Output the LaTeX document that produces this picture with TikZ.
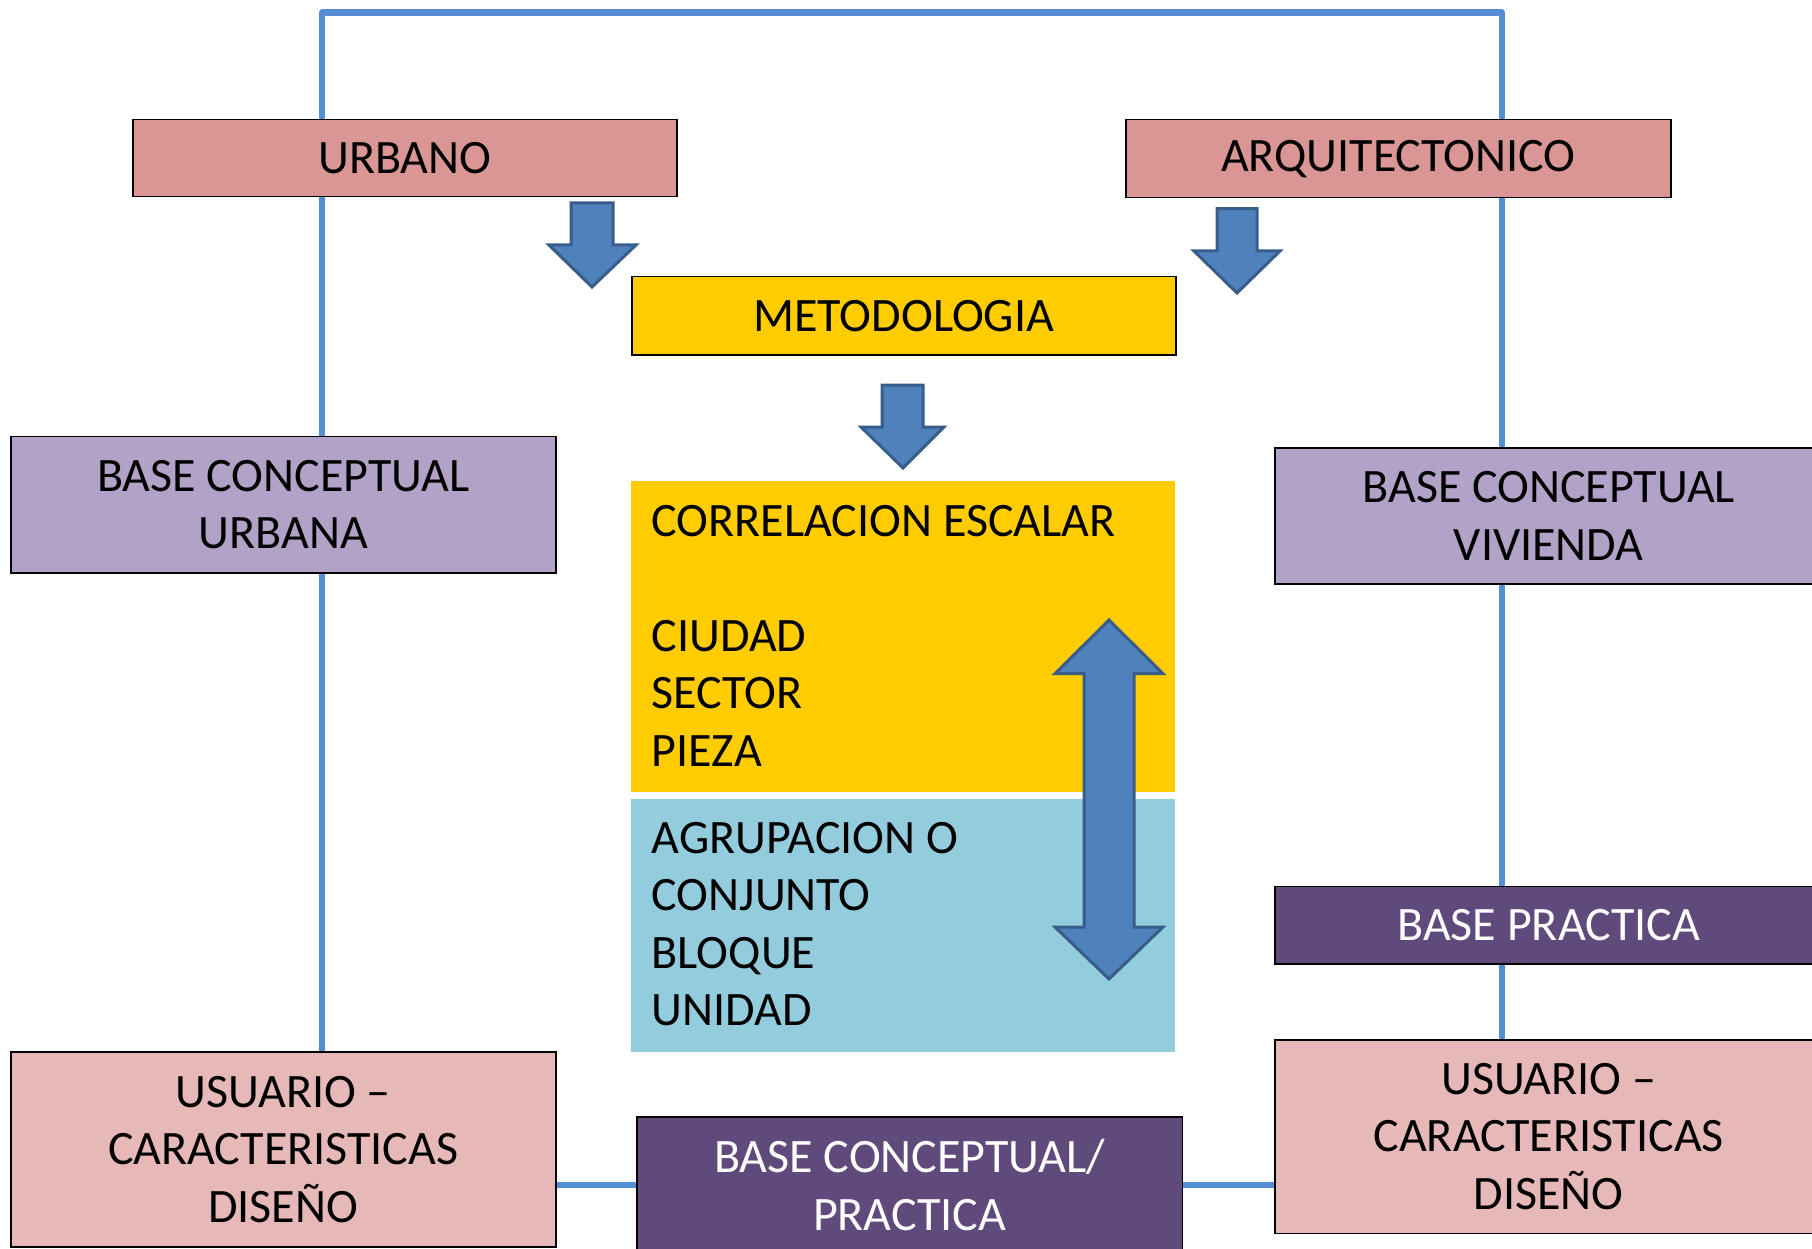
\documentclass[tikz,border=0pt]{standalone}
\usepackage{fontspec}
\setmainfont{Carlito}
\usetikzlibrary{backgrounds}
\definecolor{pinkA}{HTML}{D99694}
\definecolor{pinkB}{HTML}{E6B9B8}
\definecolor{lilac}{HTML}{B2A2C7}
\definecolor{darkpurple}{HTML}{604A7B}
\definecolor{gold}{HTML}{FFCC00}
\definecolor{skyblue}{HTML}{93CDDD}
\definecolor{arrowfill}{HTML}{4F81BD}
\definecolor{arrowedge}{HTML}{385D8A}
\definecolor{lineblue}{HTML}{558ED5}
\begin{document}
\begin{tikzpicture}[x=1pt,y=-1pt,
  bigfont/.style={font=\fontsize{48}{57.6}\selectfont},
  box/.style={draw=black, line width=1.5pt, anchor=north west, inner sep=0pt, align=center, bigfont},
  plainbox/.style={anchor=north west, inner sep=0pt},
  listtext/.style={anchor=base west, inner sep=0pt, align=left, bigfont},
  conn/.style={draw=lineblue, line width=6.5pt, line join=round},
  barrow/.style={fill=arrowfill, draw=arrowedge, line width=3pt, line join=miter}
]
\useasboundingbox (0,0) rectangle (1812,1249);
\clip (0,0) rectangle (1812,1249);

% boxes
\node[box, fill=pinkA, minimum width=544pt, minimum height=77.4pt] (urb) at (132,118.6) {URBANO};
\node[box, fill=pinkA, minimum width=545pt, minimum height=78pt] (arq) at (1125,119) {ARQUITECTONICO};
\node[box, fill=gold, minimum width=544pt, minimum height=78pt] (met) at (631,276) {METODOLOGIA};
\node[box, fill=lilac, minimum width=545pt, minimum height=136.5pt] (bcu) at (10,435.5) {BASE CONCEPTUAL\\URBANA};
\node[box, fill=lilac, minimum width=548pt, minimum height=136pt] (bcv) at (1274,447) {BASE CONCEPTUAL\\VIVIENDA};
\node[plainbox, fill=gold, minimum width=544pt, minimum height=310.6pt] (corr) at (631,481) {};
\node[plainbox, fill=skyblue, minimum width=544pt, minimum height=253pt] (agr) at (631,799) {};
\node[box, fill=darkpurple, text=white, minimum width=548pt, minimum height=77.4pt] (bp) at (1274,885.6) {BASE PRACTICA};
\node[box, fill=pinkB, minimum width=545pt, minimum height=195pt] (ul) at (10,1051) {USUARIO --\\CARACTERISTICAS\\DISEÑO};
\node[box, fill=pinkB, minimum width=548pt, minimum height=193.5pt] (ur) at (1274,1039) {USUARIO --\\CARACTERISTICAS\\DISEÑO};
\node[box, fill=darkpurple, text=white, minimum width=545.6pt, minimum height=136pt] (bcp) at (636,1116) {BASE CONCEPTUAL/\\PRACTICA};

% list texts (anchored at the baseline of their last line)
\node[listtext] (corrtext) at (651.5,766.4) {CORRELACION ESCALAR\\\mbox{}\\CIUDAD\\SECTOR\\PIEZA};
\node[listtext] (agrtext) at (651.5,1025.8) {AGRUPACION O\\CONJUNTO\\BLOQUE\\UNIDAD};

% connectors
\coordinate (tl) at (322,12.6);
\coordinate (tr) at (1502,12.6);
\begin{pgfonlayer}{background}
\draw[conn] (ul.north -| tl) -- (tl) -- (tr) -- (ur.north -| tr);
\draw[conn] (ul.east |- bcp.center) -- (bcp.west);
\draw[conn] (bcp.east) -- (ur.west |- bcp.east);
\end{pgfonlayer}

% block arrows
\draw[barrow] (571,203) -- (613,203) -- (613,245) -- (636,245) -- (592,287) -- (549,245) -- (571,245) -- cycle;
\draw[barrow] (1217,208.6) -- (1257,208.6) -- (1257,251) -- (1280,251) -- (1237,293) -- (1194,251) -- (1217,251) -- cycle;
\draw[barrow] (882,385) -- (923,385) -- (923,427) -- (944,427) -- (903,468) -- (861,427) -- (882,427) -- cycle;
\draw[barrow] (1109,620) -- (1163,673.7) -- (1134,673.7) -- (1134,927) -- (1163,927) -- (1109,979) -- (1055,927) -- (1084,927) -- (1084,673.7) -- (1055,673.7) -- cycle;
\end{tikzpicture}
\end{document}
